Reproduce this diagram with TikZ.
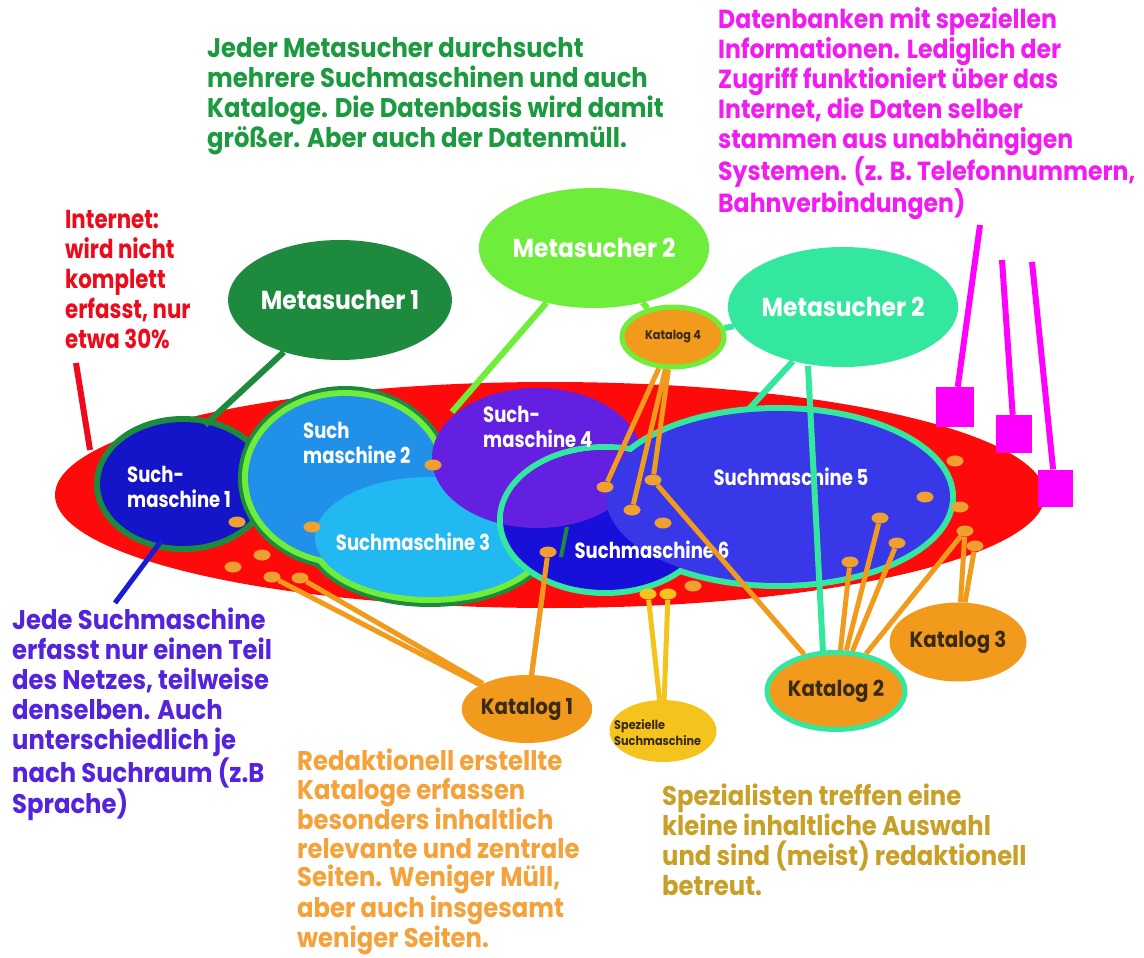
\documentclass[tikz,border=0pt]{standalone}
\usepackage{fontspec}
\newfontfamily\pop{Poppins}[FakeStretch=0.82]
\newfontfamily\popw{Poppins}[FakeStretch=0.9]
\usetikzlibrary{shapes.geometric}
\definecolor{redbg}{HTML}{FF0A0A}
\definecolor{dkgreen}{HTML}{1E8A3E}
\definecolor{ltgreen}{HTML}{6EEE3A}
\definecolor{mint}{HTML}{33E89E}
\definecolor{smA}{HTML}{1414C8}
\definecolor{smB}{HTML}{2090E8}
\definecolor{smC}{HTML}{22B8F2}
\definecolor{smD}{HTML}{6420E0}
\definecolor{smE}{HTML}{3838E8}
\definecolor{smF}{HTML}{1810D8}
\definecolor{orng}{HTML}{F29A1C}
\definecolor{dotor}{HTML}{F0A030}
\definecolor{yell}{HTML}{F5C41C}
\definecolor{mag}{HTML}{FF00FF}
\definecolor{tgreen}{HTML}{1C9A40}
\definecolor{tmag}{HTML}{F21CF2}
\definecolor{tred}{HTML}{EE0A1A}
\definecolor{tpurp}{HTML}{5522DD}
\definecolor{torng}{HTML}{F5A23A}
\definecolor{tgold}{HTML}{C8A028}
\definecolor{tkat}{HTML}{3A2A12}
\definecolor{lblue}{HTML}{1A1AD8}
\begin{document}
\begin{tikzpicture}[x=1pt,y=-1pt,
  txt/.style={inner sep=0pt, anchor=north west, align=left, font=\popw\bfseries\fontsize{27}{30}\selectfont},
  lbl/.style={text=white, inner sep=0pt, font=\pop\bfseries\fontsize{22}{25}\selectfont},
  mlbl/.style={ellipse, inner sep=0pt, text=white, font=\popw\bfseries\fontsize{26}{28}\selectfont},
  kat/.style={ellipse, inner sep=0pt, fill=orng, text=tkat, font=\popw\bfseries\fontsize{22}{24}\selectfont},
  dot/.style={ellipse, fill=dotor, minimum width=17pt, minimum height=11pt, inner sep=0pt},
  ydot/.style={dot, fill=yell},
  oline/.style={draw=orng, line width=5pt},
  sq/.style={rectangle, fill=mag, inner sep=0pt},
  mline/.style={draw=mag, line width=6pt}
]
\useasboundingbox (0,0) rectangle (1144,958);
\fill[white] (0,0) rectangle (1144,958);

% internet
\fill[redbg] (550,495) ellipse [x radius=495, y radius=113];

% Suchmaschine 1
\draw[dkgreen, line width=12pt] (183,484) ellipse [x radius=83, y radius=62];
\fill[smA] (183,484) ellipse [x radius=83, y radius=62];

% Suchmaschine 2 / 3 blob
\draw[dkgreen, line width=20pt] (345,478) ellipse [x radius=97, y radius=82];
\draw[dkgreen, line width=20pt] (430,537) ellipse [x radius=115, y radius=60];
\draw[ltgreen, line width=12pt] (345,478) ellipse [x radius=97, y radius=82];
\draw[ltgreen, line width=12pt] (430,537) ellipse [x radius=115, y radius=60];
\fill[smB] (345,478) ellipse [x radius=97, y radius=82];
\fill[smC] (430,537) ellipse [x radius=115, y radius=60];

% Suchmaschine 4
\fill[smD] (537,458) ellipse [x radius=105, y radius=70];

% Suchmaschine 5 / 6
\draw[mint, line width=12pt] (605,520) ellipse [x radius=102, y radius=70];
\draw[mint, line width=12pt] (778,497) ellipse [x radius=172, y radius=86];
\fill[smF] (605,520) ellipse [x radius=102, y radius=70];
\begin{scope}
  \clip (605,520) ellipse [x radius=102, y radius=70];
  \fill[smD] (537,458) ellipse [x radius=105, y radius=70];
\end{scope}
\fill[smE] (778,497) ellipse [x radius=172, y radius=86];

\coordinate (gsegA) at (567,527);
\coordinate (gsegB) at (561,557);
\draw[dkgreen, line width=4pt] (gsegA) -- (gsegB);

% labels in the search engines
\node[lbl, align=left, anchor=west] (l1) at (127,487) {Such-\\maschine 1};
\node[lbl, align=left, anchor=west] (l2) at (303,443) {Such\\maschine 2};
\node[lbl] (l3) at (413,542) {Suchmaschine 3};
\node[lbl, align=left, anchor=west] (l4) at (483,427) {Such-\\maschine 4};
\node[lbl] (l6) at (652,550) {Suchmaschine 6};
\node[lbl] (l5) at (791,477) {Suchmaschine 5};

% Metasucher
\node[mlbl, fill=dkgreen, minimum width=210pt, minimum height=120pt] (ms1) at (340,300) {Metasucher 1};
\node[mlbl, fill=ltgreen, minimum width=208pt, minimum height=120pt] (ms3) at (594,248) {Metasucher 2};
\node[mlbl, fill=mint, minimum width=200pt, minimum height=120pt] (ms2) at (843,307) {Metasucher 2};

% Katalog 4
\node[kat, draw=ltgreen, line width=5pt, minimum width=102pt, minimum height=60pt, font=\popw\bfseries\fontsize{12.5}{14}\selectfont] (k4) at (673,337) {Katalog 4};

% connectors of the Metasucher
\coordinate (sm1top) at (205,425);
\coordinate (sm2top) at (452,412);
\coordinate (sm5top) at (748,410);
\coordinate (ms2a) at (808,366);
\coordinate (k2a) at (823,652);
\draw[dkgreen, line width=6pt] (ms1) -- (sm1top);
\draw[ltgreen, line width=6pt] (ms3) -- (sm2top);
\draw[ltgreen, line width=6pt] (ms3) -- (k4);
\draw[mint, line width=6pt] (ms2) -- (k4);
\draw[mint, line width=6pt] (ms2) -- (sm5top);
\draw[mint, line width=6pt] (ms2a) -- (k2a);

% red and blue pointers
\coordinate (inetA) at (76,363);
\coordinate (inetB) at (90,450);
\draw[tred, line width=6pt] (inetA) -- (inetB);
\coordinate (smptA) at (162,540);
\coordinate (smptB) at (115,603);
\draw[lblue, line width=5pt] (smptA) -- (smptB);

% magenta databases
\node[sq, minimum width=38pt, minimum height=40pt] (db1) at (955,407) {};
\node[sq, minimum width=36pt, minimum height=38pt] (db2) at (1014,434) {};
\node[sq, minimum width=35pt, minimum height=37pt] (db3) at (1055,488) {};
\coordinate (dbt1) at (980,225);
\coordinate (dbt2) at (1002,260);
\coordinate (dbt3) at (1032,262);
\draw[mline] (dbt1) -- (db1);
\draw[mline] (dbt2) -- (db2);
\draw[mline] (dbt3) -- (db3);

% dots
\node[dot] (d1) at (237,522) {};
\node[dot] (d2) at (262,555) {};
\node[dot] (d3) at (233,567) {};
\node[dot] (d4) at (272,577) {};
\node[dot] (d5) at (300,578) {};
\node[dot] (d6) at (433,465) {};
\node[dot] (d7) at (312,527) {};
\node[dot] (d8) at (548,552) {};
\node[dot] (d9) at (605,487) {};
\node[dot] (d10) at (632,510) {};
\node[dot] (d11) at (653,480) {};
\node[dot] (d12) at (663,523) {};
\node[dot] (d13) at (693,586) {};
\node[dot] (d14) at (925,497) {};
\node[dot] (d15) at (955,461) {};
\node[dot] (d16) at (960,507) {};
\node[dot] (d17) at (965,531) {};
\node[dot] (d18) at (975,546) {};
\node[dot] (d19) at (880,518) {};
\node[dot] (d20) at (897,543) {};
\node[dot] (d21) at (850,562) {};
\node[ydot] (y1) at (648,594) {};
\node[ydot] (y2) at (668,594) {};
\coordinate (k1low) at (543,590);

% Kataloge
\node[kat, minimum width=121pt, minimum height=68pt] (k1) at (527,709) {Katalog 1};
\node[kat, draw=mint, line width=5pt, minimum width=138pt, minimum height=77pt] (k2) at (836,691) {Katalog 2};
\node[kat, minimum width=133pt, minimum height=79pt] (k3) at (958,642) {Katalog 3};
\node[kat, fill=yell, minimum width=107pt, minimum height=62pt] (sp) at (663,731) {};
\node[inner sep=0pt, anchor=west, align=left, text=tkat, font=\popw\bfseries\fontsize{12.5}{16}\selectfont] (spt) at (614,733) {Spezielle\\Suchmaschine};

% catalogue connectors
\draw[oline] (k4) -- (d9);
\draw[oline] (k4) -- (d10);
\draw[oline] (k4) -- (d11);
\draw[oline] (d11) -- (k2);
\draw[oline] (k1) -- (d4);
\draw[oline] (k1) -- (d5);
\draw[oline] (k1) -- (k1low);
\draw[oline] (k1) -- (d8);
\draw[oline] (k2) -- (d21);
\draw[oline] (k2) -- (d19);
\draw[oline] (k2) -- (d20);
\draw[oline] (k2) -- (d17);
\draw[oline] (k3) -- (d17);
\draw[oline] (k3) -- (d18);
\draw[yell, line width=5pt] (sp) -- (y1);
\draw[yell, line width=5pt] (sp) -- (y2);

% texts
\node[txt, text=tgreen] (tg) at (207,37) {Jeder Metasucher durchsucht\\mehrere Suchmaschinen und auch\\Kataloge. Die Datenbasis wird damit\\größer. Aber auch der Datenmüll.};
\node[txt, text=tmag, font=\popw\bfseries\fontsize{26.2}{30}\selectfont] (tm) at (718,7) {Datenbanken mit speziellen\\Informationen. Lediglich der\\Zugriff funktioniert über das\\Internet, die Daten selber\\stammen aus unabhängigen\\Systemen. (z. B. Telefonnummern,\\Bahnverbindungen)};
\node[txt, text=tred, font=\pop\bfseries\fontsize{26}{30}\selectfont] (tr) at (65,210) {Internet:\\wird nicht\\komplett\\erfasst, nur\\etwa 30\%};
\node[txt, text=tpurp] (tp) at (12,608) {Jede Suchmaschine\\erfasst nur einen Teil\\des Netzes, teilweise\\denselben. Auch\\unterschiedlich je\\nach Suchraum (z.B\\Sprache)};
\node[txt, text=torng, font=\popw\bfseries\fontsize{27}{28.7}\selectfont] (to) at (297,749) {Redaktionell erstellte\\Kataloge erfassen\\besonders inhaltlich\\relevante und zentrale\\Seiten. Weniger Müll,\\aber auch insgesamt\\weniger Seiten.};
\node[txt, text=tgold] (tgo) at (662,784) {Spezialisten treffen eine\\kleine inhaltliche Auswahl\\und sind (meist) redaktionell\\betreut.};
\end{tikzpicture}
\end{document}
